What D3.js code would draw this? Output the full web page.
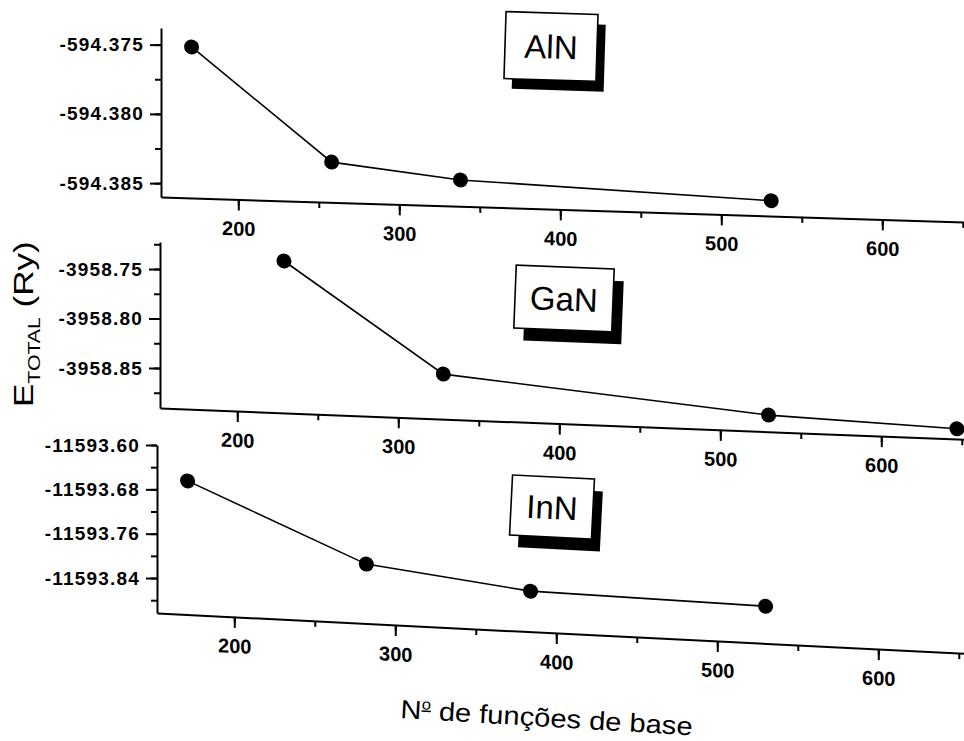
<!DOCTYPE html>
<html>
  <head>
    <meta charset="utf-8">
    <title>E total vs basis functions</title>
    <style>
      body { margin: 0; background: #fff; }
      svg { display: block; }
      .tick text { font-family: "Liberation Sans", Arial, sans-serif; font-weight: bold; fill: #000; }
      .ylab text { font-size: 19px; letter-spacing: 1.2px; }
      .xlab text { font-size: 20px; }
    </style>
  </head>
  <body>
    <svg class="chart"></svg>
    <script src="https://cdn.jsdelivr.net/npm/d3@7"></script>
    <script>

// number of basis functions and total energies (Ry)
var basisAlN = [171, 258, 338, 531]
var energyAlN = [-594.3751, -594.3831, -594.3841, -594.3849]
var basisGaN = [229, 328, 530, 647]
var energyGaN = [-3958.737, -3958.845, -3958.8736, -3958.880]
var basisInN = [171, 282, 384, 530]
var energyInN = [-11593.662, -11593.796, -11593.830, -11593.836]

var materials = ["AlN", "GaN", "InN"]
var xTicks = [200, 300, 400, 500, 600]
var yTicksAlN = [-594.375, -594.380, -594.385]
var yTicksGaN = [-3958.75, -3958.80, -3958.85]
var yTicksInN = [-11593.60, -11593.68, -11593.76, -11593.84]

var width = 964
var height = 741

var svg = d3.select(".chart")
    .attr("width", width)
    .attr("height", height)
    .style("font-family", "'Liberation Sans', Arial, sans-serif")

// layout of each panel (the scan is slightly skewed, more towards the bottom)
var panels = [
    {name: materials[0], xs: basisAlN, ys: energyAlN, ticks: yTicksAlN, minor: 0.0025, fmt: ".3f",
     axisX: 161, top: 28, bottom: 197, ydom: [-594.386, -594.3738], slope: 0.031,
     box: [505, 13, 92, 67, 8, 10]},
    {name: materials[1], xs: basisGaN, ys: energyGaN, ticks: yTicksGaN, minor: 0.025, fmt: ".2f",
     axisX: 160, top: 242, bottom: 408, ydom: [-3958.8904, -3958.7227], slope: 0.039,
     box: [515, 267, 98, 63, 10, 12]},
    {name: materials[2], xs: basisInN, ys: energyInN, ticks: yTicksInN, minor: 0.04, fmt: ".2f",
     axisX: 157, top: 445, bottom: 613, ydom: [-11593.9031, -11593.60], slope: 0.05,
     box: [511, 477, 82, 60, 9, 12]}
]

var xmin = 152, xmax = 660, pxPer = 1.61

panels.forEach(function(p) {
    var x = d3.scaleLinear().domain([xmin, xmax]).range([0, (xmax - xmin) * pxPer])
    var y = d3.scaleLinear().domain(p.ydom).range([p.bottom, p.top])
    var f = d3.format(p.fmt)

    // y axis, not skewed
    var ya = svg.append("g").attr("transform", "translate(" + p.axisX + ",0)")
    var minorVals = d3.range(Math.ceil(p.ydom[0] / p.minor), Math.floor(p.ydom[1] / p.minor) + 1)
        .map(function(k) { return k * p.minor })
    ya.append("g")
        .call(d3.axisLeft(y).tickValues(minorVals).tickSize(6).tickFormat("").tickSizeOuter(0))
        .call(function(g) { g.select(".domain").remove() })
    ya.append("g").attr("class", "ylab")
        .call(d3.axisLeft(y).tickValues(p.ticks).tickSize(11).tickPadding(6)
            .tickFormat(function(d) { return f(d).replace("\u2212", "-") }).tickSizeOuter(0))
    ya.selectAll("line, path").attr("stroke", "#000").attr("stroke-width", 2)

    // x axis and data in a skewed group
    var angle = Math.atan(p.slope) * 180 / Math.PI
    var g = svg.append("g")
        .attr("transform", "translate(" + p.axisX + ",0) skewY(" + angle + ")")

    var minorX = d3.range(150, 700, 50)
    g.append("g").attr("transform", "translate(0," + p.bottom + ")")
        .call(d3.axisBottom(x).tickValues(minorX.filter(function(v) { return v > xmin })).tickSize(6).tickFormat("").tickSizeOuter(0))
        .call(function(a) { a.select(".domain").remove() })
    g.append("g").attr("class", "xlab").attr("transform", "translate(0," + p.bottom + ")")
        .call(d3.axisBottom(x).tickValues(xTicks).tickSize(11).tickPadding(11).tickSizeOuter(0))
    g.selectAll("line, path").attr("stroke", "#000").attr("stroke-width", 2)

    var pts = p.xs.map(function(v, i) { return [v, p.ys[i]] })
    g.append("path")
        .datum(pts)
        .attr("fill", "none")
        .attr("stroke", "#000")
        .attr("stroke-width", 1.6)
        .attr("d", d3.line().x(function(d) { return x(d[0]) }).y(function(d) { return y(d[1]) }))
    g.selectAll(".dot")
        .data(pts)
        .enter().append("circle")
        .attr("cx", function(d) { return x(d[0]) })
        .attr("cy", function(d) { return y(d[1]) })
        .attr("r", 7.5)
        .attr("fill", "#000")

    // label box with drop shadow
    var b = p.box
    var bg = svg.append("g")
        .attr("transform", "rotate(" + angle + "," + (b[0] + b[2] / 2) + "," + (b[1] + b[3] / 2) + ")")
    bg.append("rect").attr("x", b[0] + b[4]).attr("y", b[1] + b[5])
        .attr("width", b[2]).attr("height", b[3]).attr("fill", "#000")
    bg.append("rect").attr("x", b[0]).attr("y", b[1])
        .attr("width", b[2]).attr("height", b[3])
        .attr("fill", "#fff").attr("stroke", "#000").attr("stroke-width", 1.6)
    bg.append("text")
        .attr("x", b[0] + b[2] / 2)
        .attr("y", b[1] + b[3] / 2 + 12)
        .attr("text-anchor", "middle")
        .style("font-size", "33px")
        .text(p.name)
})

// y title: E_TOTAL (Ry)
var yt = svg.append("text")
    .attr("transform", "translate(33,407) rotate(-90) scale(1.25,1)")
    .style("font-size", "28px")
yt.append("tspan").text("E")
yt.append("tspan").attr("dy", 7).style("font-size", "17px").text("TOTAL")
yt.append("tspan").attr("dy", -7).text(" (Ry)")

// x title, with the underlined superscript o of "Nº"
var xt = svg.append("text")
    .attr("transform", "translate(400,718) rotate(3.4) scale(1.12,1)")
    .style("font-size", "26px")
xt.append("tspan").text("N")
xt.append("tspan").attr("dy", -10).style("font-size", "15px")
    .style("text-decoration", "underline").text("o")
xt.append("tspan").attr("dy", 10).text(" de fun\u00e7\u00f5es de base")

    </script>
  </body>
</html>
